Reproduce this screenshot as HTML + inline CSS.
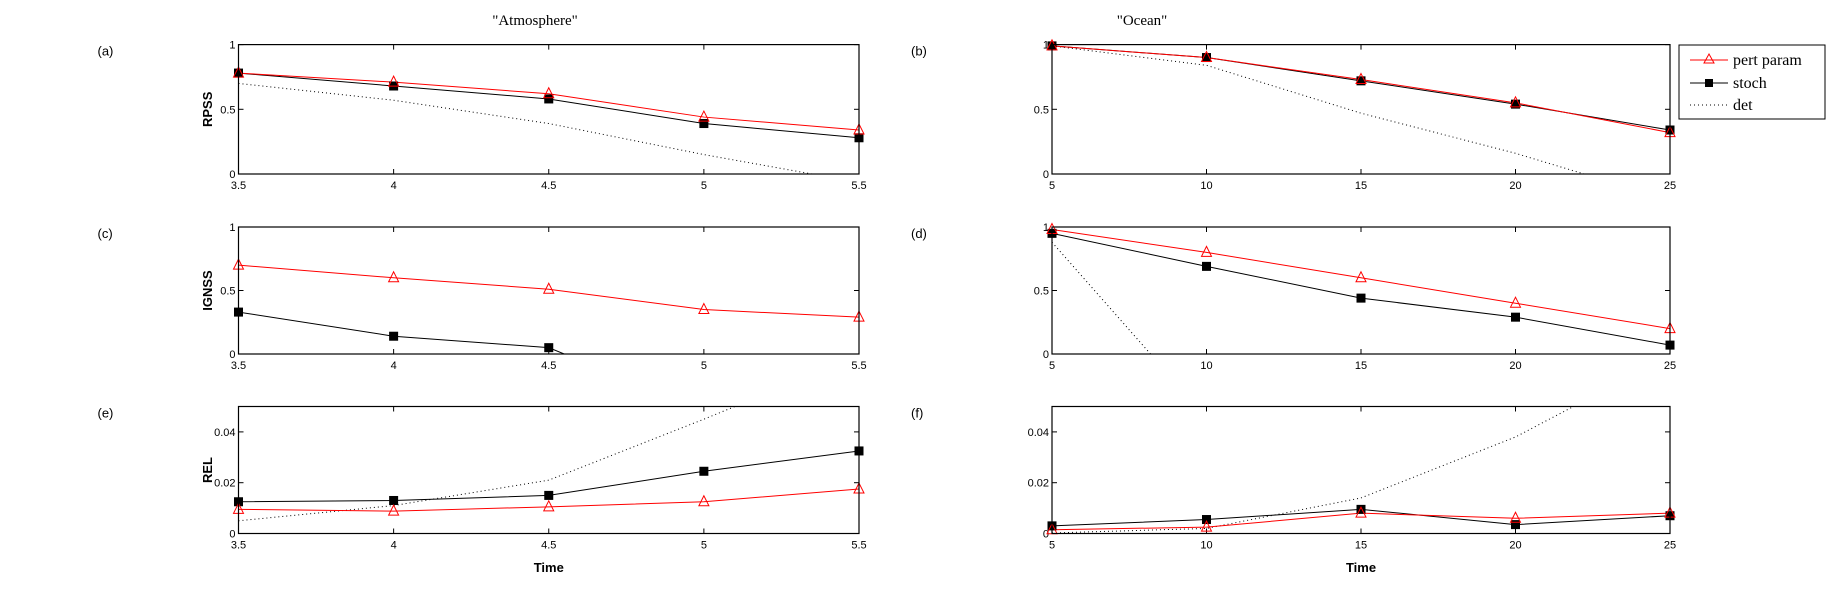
<!DOCTYPE html>
<html><head><meta charset="utf-8"><style>
body{margin:0;background:#fff}
svg{display:block}
text{font-family:"Liberation Sans",sans-serif}
</style></head><body>
<svg id="fig" width="1842" height="601" viewBox="0 0 1842 601" xmlns="http://www.w3.org/2000/svg">
<rect width="1842" height="601" fill="#fff"/>
<text x="535" y="25" text-anchor="middle" style="font-family:'Liberation Serif',serif" font-size="15">"Atmosphere"</text>
<text x="1142" y="25" text-anchor="middle" style="font-family:'Liberation Serif',serif" font-size="15">"Ocean"</text>
<g id="legend">
<rect x="1679" y="45" width="146" height="74" fill="#fff" stroke="#000" stroke-width="1"/>
<g>
<line x1="1690" y1="60" x2="1728" y2="60" stroke="red" stroke-width="1"/>
<path d="M1709,54 L1714,63 L1704,63 Z" fill="none" stroke="red"/>
<text x="1733" y="65" style="font-family:'Liberation Serif',serif" font-size="16">pert param</text></g>
<g>
<line x1="1690" y1="83" x2="1728" y2="83" stroke="#000" stroke-width="1"/>
<rect x="1705" y="79" width="8" height="8" fill="#000"/>
<text x="1733" y="88" style="font-family:'Liberation Serif',serif" font-size="16">stoch</text></g>
<g>
<line x1="1690" y1="105" x2="1728" y2="105" stroke="#000" stroke-width="1" stroke-dasharray="1,3"/>
<text x="1733" y="110" style="font-family:'Liberation Serif',serif" font-size="16">det</text></g>
</g>
</svg>
<script>
const atmTimes = [3.5, 4, 4.5, 5, 5.5];
const oceTimes = [5, 10, 15, 20, 25];
const atmTickLabels = ['3.5','4','4.5','5','5.5'];
const oceTickLabels = ['5','10','15','20','25'];
const skillTicks = [0, 0.5, 1];
const skillTickLabels = ['0','0.5','1'];
const relTicks = [0, 0.02, 0.04];
const relTickLabels = ['0','0.02','0.04'];
// (a) RPSS atmosphere
const aPert = [0.78, 0.71, 0.62, 0.44, 0.34];
const aStoch = [0.78, 0.68, 0.58, 0.39, 0.28];
const aDet = [0.70, 0.57, 0.39, 0.15, -0.065];
// (b) RPSS ocean
const bPert = [0.99, 0.90, 0.73, 0.55, 0.32];
const bStoch = [0.99, 0.90, 0.72, 0.54, 0.34];
const bDet = [0.99, 0.84, 0.47, 0.16, -0.2];
// (c) IGNSS atmosphere
const cPert = [0.70, 0.60, 0.51, 0.35, 0.29];
const cStoch = [0.33, 0.14, 0.05, -0.45, -0.9];
const cDet = [-1, -1, -1, -1, -1];
// (d) IGNSS ocean
const dPert = [0.98, 0.80, 0.60, 0.40, 0.20];
const dStoch = [0.95, 0.69, 0.44, 0.29, 0.07];
const dDet = [0.88, -0.5, -1, -1, -1];
// (e) REL atmosphere
const ePert = [0.0095, 0.0088, 0.0105, 0.0125, 0.0175];
const eStoch = [0.0125, 0.013, 0.015, 0.0245, 0.0325];
const eDet = [0.005, 0.011, 0.021, 0.045, 0.07];
// (f) REL ocean
const fPert = [0.0015, 0.0025, 0.008, 0.006, 0.008];
const fStoch = [0.003, 0.0055, 0.0095, 0.0035, 0.007];
const fDet = [0.0002, 0.002, 0.014, 0.038, 0.07];

const NS = 'http://www.w3.org/2000/svg';
const svg = document.getElementById('fig');
function mk(tag, attrs, parent){const e=document.createElementNS(NS,tag);for(const k in attrs)e.setAttribute(k,attrs[k]);(parent||svg).appendChild(e);return e;}

const cols = [{x0:238.5,x1:859,xs:atmTimes,xl:atmTickLabels,xmin:3.5,xmax:5.5},{x0:1052,x1:1670,xs:oceTimes,xl:oceTickLabels,xmin:5,xmax:25}];
const rows = [{y0:44.6,y1:174,ymax:1,ticks:skillTicks,tl:skillTickLabels,label:'RPSS'},{y0:227,y1:354,ymax:1,ticks:skillTicks,tl:skillTickLabels,label:'IGNSS'},{y0:406.5,y1:533.5,ymax:0.05,ticks:relTicks,tl:relTickLabels,label:'REL'}];
const panels = [
 {r:0,c:0,id:'a',p:aPert,s:aStoch,d:aDet},{r:0,c:1,id:'b',p:bPert,s:bStoch,d:bDet},
 {r:1,c:0,id:'c',p:cPert,s:cStoch,d:cDet},{r:1,c:1,id:'d',p:dPert,s:dStoch,d:dDet},
 {r:2,c:0,id:'e',p:ePert,s:eStoch,d:eDet},{r:2,c:1,id:'f',p:fPert,s:fStoch,d:fDet}];

panels.forEach(pn=>{
 const C=cols[pn.c], R=rows[pn.r];
 const xf=v=>C.x0+(v-C.xmin)/(C.xmax-C.xmin)*(C.x1-C.x0);
 const yf=v=>R.y1-(v/R.ymax)*(R.y1-R.y0);
 const g=mk('g',{});
 
 
 const cp=mk('clipPath',{id:'clip'+pn.id},g);
 mk('rect',{x:C.x0,y:R.y0,width:C.x1-C.x0,height:R.y1-R.y0},cp);
 const lbl=mk('text',{x:C.x0-141,y:R.y0+11,'font-size':13},g);
 lbl.textContent='('+pn.id+')';
 
 
 C.xs.forEach((v,i)=>{
  const x=xf(v);
  mk('line',{x1:x,y1:R.y1,x2:x,y2:R.y1-5,stroke:'#000'},g);
  mk('line',{x1:x,y1:R.y0,x2:x,y2:R.y0+5,stroke:'#000'},g);
  const t=mk('text',{x:x,y:R.y1+15,'text-anchor':'middle','font-size':11},g);
  t.textContent=C.xl[i];
  
  
 });
 R.ticks.forEach((v,i)=>{
  const y=yf(v);
  mk('line',{x1:C.x0,y1:y,x2:C.x0+5,y2:y,stroke:'#000'},g);
  mk('line',{x1:C.x1,y1:y,x2:C.x1-5,y2:y,stroke:'#000'},g);
  const t=mk('text',{x:C.x0-3,y:y+4,'text-anchor':'end','font-size':11},g);
  t.textContent=R.tl[i];
  
  
 });
 if(pn.c===0){
  const yl=mk('text',{x:0,y:0,'text-anchor':'middle','font-size':13,'font-weight':'bold',transform:'translate(212,'+((R.y0+R.y1)/2)+') rotate(-90)'},g);
  yl.textContent=R.label;
  
  
 }
 if(pn.r===2){
  const xl=mk('text',{x:(C.x0+C.x1)/2,y:572,'text-anchor':'middle','font-size':13,'font-weight':'bold'},g);
  xl.textContent='Time';
  
  
 }
 const dg=mk('g',{'clip-path':'url(#clip'+pn.id+')'},g);
 const pts=arr=>arr.map((v,i)=>xf(C.xs[i])+','+yf(v)).join(' ');
 const det=mk('polyline',{points:pts(pn.d),fill:'none',stroke:'#000','stroke-width':1,'stroke-dasharray':'1,3'},dg);
 
 
 const st=mk('polyline',{points:pts(pn.s),fill:'none',stroke:'#000','stroke-width':1},dg);
 
 
 const pe=mk('polyline',{points:pts(pn.p),fill:'none',stroke:'red','stroke-width':1},dg);
 
 
 pn.s.forEach((v,i)=>{
  const y=yf(v); if(y>R.y1+1) return;
  const m=mk('rect',{x:xf(C.xs[i])-4.5,y:y-4.5,width:9,height:9,fill:'#000'},g);
  
  
 });
 pn.p.forEach((v,i)=>{
  const x=xf(C.xs[i]),y=yf(v);
  const m=mk('path',{d:'M'+x+','+(y-6)+' L'+(x+5)+','+(y+4)+' L'+(x-5)+','+(y+4)+' Z',fill:'none',stroke:'red'},g);
  
  
 });
 const box=mk('rect',{x:C.x0,y:R.y0,width:C.x1-C.x0,height:R.y1-R.y0,fill:'none',stroke:'#000','stroke-width':1.2},g);
 
 
});
svg.appendChild(document.getElementById('legend'));
</script>
</body></html>
